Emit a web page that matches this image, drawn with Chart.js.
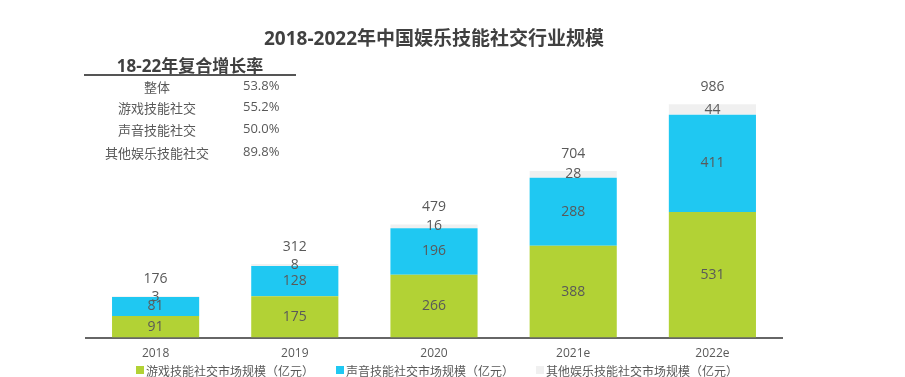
<!DOCTYPE html>
<html>
<head>
<meta charset="utf-8">
<script src="https://cdn.jsdelivr.net/npm/chart.js@4/dist/chart.umd.min.js"></script>
<style>
  body { margin: 0; background: #fff; font-family: "Open Sans", "Noto Sans CJK SC", sans-serif; }
  #wrap { position: relative; width: 905px; height: 377px; }
  #chart { position: absolute; left: 0; top: 0; }
  .txt { position: absolute; white-space: nowrap; color: #595959; line-height: 20px; }
  #title { left: 234px; width: 400px; top: 28px; text-align: center; font-size: 19px; font-weight: bold; color: #404040; }
  #cagrHead { left: 84px; width: 212px; top: 56px; text-align: center; font-size: 17px; font-weight: bold; color: #404040; }
  #cagrLine { position: absolute; left: 84px; top: 74px; width: 212px; height: 2px; background: #555; }
  .cagrName { left: 96px; width: 122px; text-align: center; font-size: 13px; }
  .cagrVal { left: 243px; font-size: 13px; }
  #legend { position: absolute; left: 136px; top: 361px; height: 18px; display: flex; align-items: center; gap: 22px;
    font-family: "Noto Sans CJK SC", sans-serif; font-size: 12px; color: #595959; white-space: nowrap;
    text-spacing-trim: space-all; font-feature-settings: "fwid" 1; }
  .leg-item { display: flex; align-items: center; }
  .leg-box { width: 8px; height: 8px; margin-right: 2px; }
</style>
</head>
<body>
<div id="wrap">
  <canvas id="chart" width="905" height="377"></canvas>
  <div class="txt" id="title">2018-2022年中国娱乐技能社交行业规模</div>
  <div class="txt" id="cagrHead">18-22年复合增长率</div>
  <div id="cagrLine"></div>
  <div id="cagr"></div>
  <div id="legend"></div>
</div>
<script>
const years = ["2018", "2019", "2020", "2021e", "2022e"];
const gameSocial = [91, 175, 266, 388, 531];
const voiceSocial = [81, 128, 196, 288, 411];
const otherSocial = [3, 8, 16, 28, 44];
const totals = [176, 312, 479, 704, 986];

const seriesNames = ["游戏技能社交市场规模（亿元）", "声音技能社交市场规模（亿元）", "其他娱乐技能社交市场规模（亿元）"];
const seriesColors = ["#b2d235", "#1fc8f2", "#f0f0f0"];

const cagrNames = ["整体", "游戏技能社交", "声音技能社交", "其他娱乐技能社交"];
const cagrValues = ["53.8%", "55.2%", "50.0%", "89.8%"];

// CAGR table
const rowY = [87, 108, 130, 153];
document.getElementById("cagr").innerHTML = cagrNames
  .map(
    (n, i) => `
    <div class="txt cagrName" style="top:${rowY[i] - 10}px">${n}</div>
    <div class="txt cagrVal" style="top:${rowY[i] - 12}px">${cagrValues[i]}</div>
  `,
  )
  .join("");

// Legend
document.getElementById("legend").innerHTML = seriesNames
  .map(
    (n, i) => `
    <div class="leg-item"><div class="leg-box" style="background:${seriesColors[i]}"></div><span>${n}</span></div>
  `,
  )
  .join("");

// labels inside segments + totals on top
const barLabels = {
  id: "barLabels",
  afterDatasetsDraw(chart) {
    const ctx = chart.ctx;
    ctx.save();
    ctx.font = '14px "Open Sans", "Noto Sans CJK SC"';
    ctx.fillStyle = "#595959";
    ctx.textAlign = "center";
    ctx.textBaseline = "middle";
    chart.data.datasets.forEach((ds, di) => {
      chart.getDatasetMeta(di).data.forEach((el, i) => {
        ctx.fillText(ds.data[i], el.x, (el.y + el.base) / 2);
      });
    });
    const last = chart.getDatasetMeta(chart.data.datasets.length - 1).data;
    last.forEach((el, i) => {
      ctx.fillText(totals[i], el.x, el.y - 17);
    });
    ctx.restore();
  },
};

new Chart(document.getElementById("chart").getContext("2d"), {
  type: "bar",
  data: {
    labels: years,
    datasets: [
      { label: seriesNames[0], data: gameSocial, backgroundColor: seriesColors[0] },
      { label: seriesNames[1], data: voiceSocial, backgroundColor: seriesColors[1] },
      { label: seriesNames[2], data: otherSocial, backgroundColor: seriesColors[2] },
    ],
  },
  options: {
    responsive: false,
    animation: false,
    layout: { padding: { top: 101, left: 86, right: 123, bottom: 15 } },
    datasets: { bar: { categoryPercentage: 1, barPercentage: 0.626 } },
    plugins: {
      legend: { display: false },
      tooltip: { enabled: false },
    },
    scales: {
      x: {
        stacked: true,
        grid: { display: false },
        border: { color: "#666", width: 2 },
        ticks: { color: "#595959", padding: 1, font: { size: 12, family: '"Open Sans"' } },
      },
      y: { stacked: true, display: false, min: 0, max: 1000 },
    },
  },
  plugins: [barLabels],
});
</script>
</body>
</html>
